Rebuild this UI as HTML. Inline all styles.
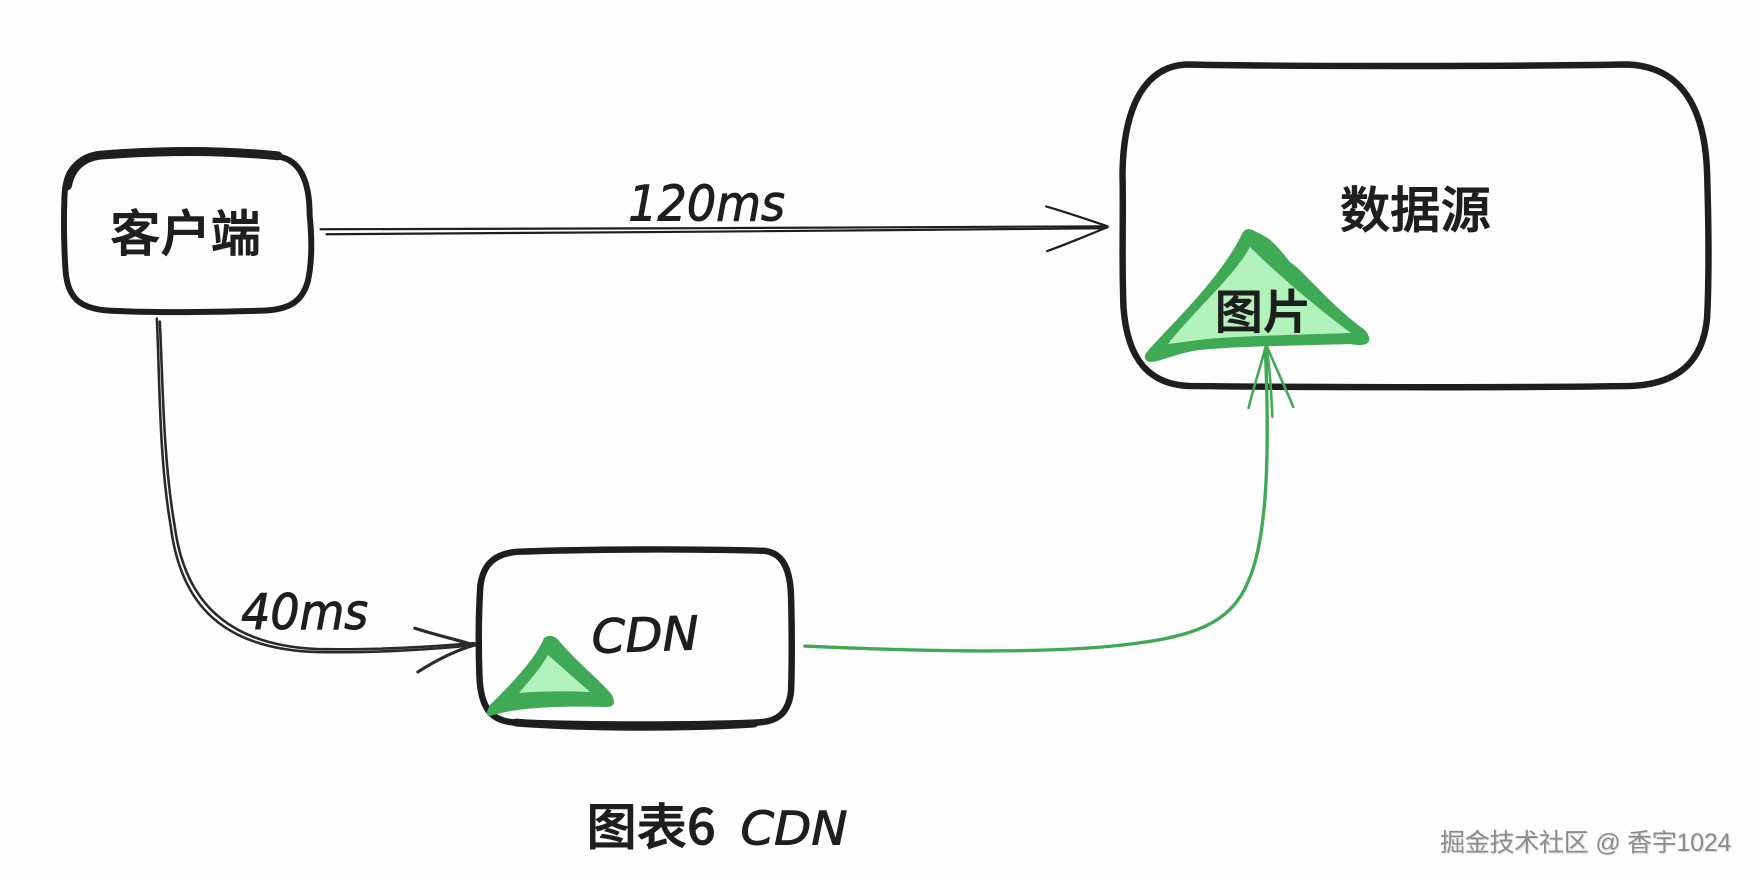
<!DOCTYPE html>
<html lang="zh"><head><meta charset="utf-8"><title>图表6 CDN</title>
<style>
html,body{margin:0;padding:0;width:1756px;height:880px;overflow:hidden;background:#fefefe}
svg{position:absolute;left:0;top:0}
text{font-family:"Liberation Sans","Noto Sans CJK SC",sans-serif;fill:#1e1e1e}
.cn{font-family:"Noto Sans CJK SC","WenQuanYi Zen Hei",sans-serif;font-weight:500;stroke:#1e1e1e;stroke-width:.9}
.hand{font-family:"DejaVu Sans","Liberation Sans",sans-serif;stroke:#1e1e1e;stroke-width:1;font-style:italic}
.wm{position:absolute;left:1440px;top:826px;font:25px/34px "Liberation Sans","Noto Sans CJK SC",sans-serif;color:#8c8c8c;text-shadow:1px 1px 1px #d8d8d8;white-space:nowrap;letter-spacing:-.25px}
</style></head><body>
<svg width="1756" height="880" viewBox="0 0 1756 880" fill="none" stroke-linecap="round" stroke-linejoin="round">
<g transform="scale(.9925)">
<!-- client box -->
<path d="M100 157C170 152 230 152 282 158C302 162 312 182 312 217C315 247 314 267 310 284C304 305 290 312 265 313C200 315 150 315 110 313C82 311 68 302 66 272C64 242 64 222 65 197C66 170 78 160 100 157Z" stroke="#1e1e1e" stroke-width="6"/>
<path d="M68 187C72 167 85 157 105 156C170 151 230 152 280 157" stroke="#1e1e1e" stroke-width="9"/>
<!-- source box -->
<path d="M1195 65C1300 67 1520 67 1640 65C1695 67 1718 110 1720 175C1722 240 1722 280 1720 320C1716 365 1690 388 1640 389C1500 391 1300 390 1200 389C1160 388 1136 365 1132 310C1130 260 1132 220 1131 175C1132 105 1155 67 1195 65Z" stroke="#1e1e1e" stroke-width="6.5"/>
<!-- CDN box -->
<path d="M520 556C600 553 700 553 770 555C788 557 796 572 797 600C798 640 798 670 797 697C794 720 782 728 760 728C680 731 590 730 520 728C495 727 484 714 483 680C482 650 482 620 484 590C487 567 500 558 520 556Z" stroke="#1e1e1e" stroke-width="6.5"/>
<path d="M520 728C600 734 700 733 760 729" stroke="#1e1e1e" stroke-width="8"/>
<!-- top arrow -->
<g stroke="#1e1e1e" stroke-width="2.2">
<path d="M323 231C550 230 900 230 1115 228"/><path d="M329 236C550 234 900 233 1112 230"/>
<path d="M1054 208C1075 214 1098 222 1116 228"/><path d="M1055 253C1075 246 1098 236 1116 229"/>
</g>
<!-- lower-left arrow -->
<g stroke="#2a2a2a" stroke-width="2.6">
<path d="M158 321C161 380 160 460 172 530C182 610 225 654 320 657C370 658 430 655 478 650"/>
<path d="M161 324C164 380 164 460 176 530C186 605 228 650 320 654C370 655 430 652 478 648"/>
<path d="M418 633C440 640 462 645 478 650" stroke-width="3.2"/><path d="M421 677C440 665 460 655 478 650" stroke-width="3.2"/>
</g>
<!-- green arrow -->
<g stroke="#3fa956" stroke-width="2.6">
<path d="M811 651C900 655 1040 660 1130 650C1200 642 1240 630 1258 585C1280 535 1278 430 1275 352" stroke-width="3.4"/>
<path d="M1282 420C1281 400 1280 375 1276 350"/>
<path d="M1258 411C1263 390 1270 370 1275 350"/><path d="M1303 410C1295 390 1285 370 1277 350"/>
</g>
</g>
<!-- triangles -->
<path d="M1243 232Q1248 226 1256 232C1272 238 1280 250 1290 262C1305 272 1330 305 1365 330Q1373 340 1366 344Q1362 346 1350 344C1290 346 1240 346 1200 350C1180 352 1160 362 1150 362Q1142 360 1146 353C1170 325 1220 280 1243 232Z" fill="#40a956"/>
<path d="M1250 247C1265 262 1300 295 1351 333C1290 335 1230 336 1198 340C1185 342 1175 343 1168 344C1195 310 1235 275 1250 247Z" fill="#b2f2bb"/>
<path d="M544 638Q552 632 560 642C580 665 600 680 612 695Q618 707 606 707C570 706 520 706 490 716C486 716 486 712 490 705C510 685 535 660 544 638Z" fill="#40a956"/>
<path d="M548 655L590 692C570 691 540 691 519 693C530 680 540 669 548 655Z" fill="#b2f2bb"/>
<!-- labels -->
<g transform="scale(.9925)">
<text class="cn" x="187" y="253" font-size="50" text-anchor="middle" textLength="152" lengthAdjust="spacingAndGlyphs">客户端</text>
<text class="cn" x="1426" y="229" font-size="50" text-anchor="middle" textLength="152" lengthAdjust="spacingAndGlyphs">数据源</text>
<text class="cn" x="1224" y="331" font-size="47" textLength="97" lengthAdjust="spacingAndGlyphs">图片</text>
<text class="hand" x="633" y="222" font-size="49" textLength="158" lengthAdjust="spacingAndGlyphs">120ms</text>
<text class="hand" x="243" y="634" font-size="49" textLength="128" lengthAdjust="spacingAndGlyphs">40ms</text>
<text class="hand" x="596" y="656" font-size="47" textLength="108" lengthAdjust="spacingAndGlyphs" transform="rotate(-2 650 640)">CDN</text>
<text class="cn" x="591" y="851" font-size="50" textLength="130" lengthAdjust="spacingAndGlyphs">图表6</text>
<text class="hand" x="746" y="851" font-size="47" textLength="108" lengthAdjust="spacingAndGlyphs">CDN</text>
</g>
</svg>
<div class="wm">掘金技术社区 @ 香宇1024</div>
</body></html>
